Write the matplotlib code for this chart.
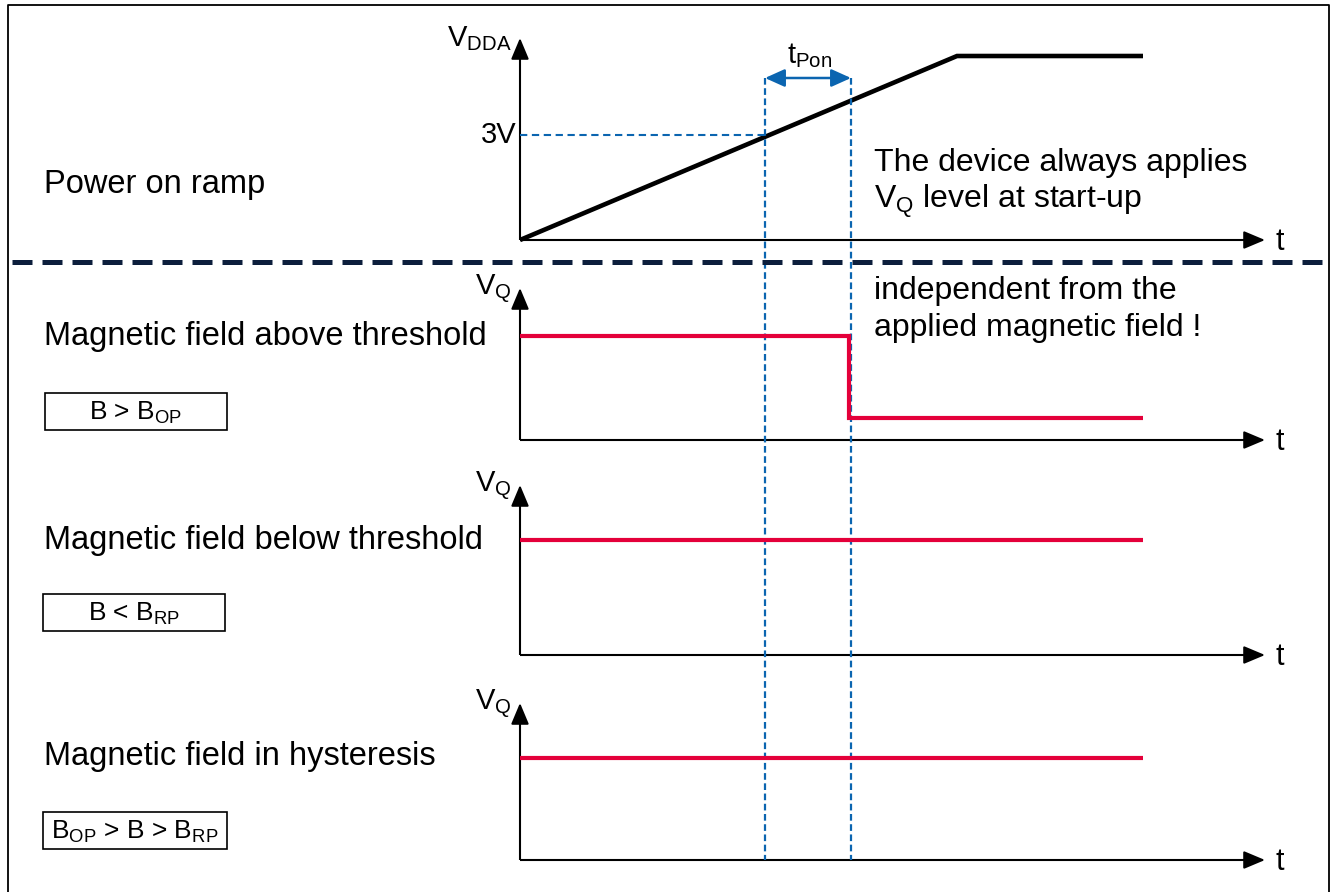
import matplotlib
matplotlib.use('Agg')
import matplotlib.pyplot as plt
from matplotlib.patches import Rectangle

plt.rcParams['font.family'] = ['Liberation Sans', 'DejaVu Sans']
plt.rcParams['mathtext.fontset'] = 'custom'
plt.rcParams['mathtext.rm'] = 'Liberation Sans'
plt.rcParams['mathtext.it'] = 'Liberation Sans'

# diagram coordinates (x = time, y = level, image-like units)
t_origin = 520
t_axis_end = 1265
t_sig_end = 1143
t_3v = 765
t_pon = 851
t_step = 849
y_3v = 135
y_pon_arrow = 78

ramp_t = [520, 957, 1143]
ramp_v = [240, 56, 56]

baselines = [240, 440, 655, 860]
axis_tops = [38, 288, 485, 703]
axis_labels = [r'V$_\mathregular{DDA}$', r'V$_\mathregular{Q}$',
               r'V$_\mathregular{Q}$', r'V$_\mathregular{Q}$']

sig_t = [[520, 849, 849, 1143], [520, 1143], [520, 1143]]
sig_v = [[336, 336, 418, 418], [540, 540], [758, 758]]

row_titles = ['Power on ramp', 'Magnetic field above threshold',
              'Magnetic field below threshold', 'Magnetic field in hysteresis']
row_title_y = [185, 337, 540, 757]
box_texts = [r'B > B$_\mathregular{OP}$', r'B < B$_\mathregular{RP}$',
             r'B$_\mathregular{OP}$ > B > B$_\mathregular{RP}$']
box_y = [393, 594, 812]
box_x = [45, 43, 43]
box_w = [182, 182, 184]
box_h = 37

notes = ['The device always applies', r'V$_\mathregular{Q}$ level at start-up',
         'independent from the', 'applied magnetic field !']
note_y = [163, 201, 291, 328]

RED = '#e4003a'
BLUE = '#0b65b0'
NAVY = '#0c1e3c'

fig = plt.figure(figsize=(13.32, 8.92), dpi=100)
ax = fig.add_axes([0, 0, 1, 1])
ax.set_xlim(0, 1332)
ax.set_ylim(892, 0)
ax.axis('off')

# outer frame (no bottom edge)
ax.plot([8, 8, 1329, 1329], [892, 5, 5, 892], color='black', lw=1.3)

# axes with arrows
for base, top, lab in zip(baselines, axis_tops, axis_labels):
    ax.plot([t_origin, t_origin], [base, top + 12], color='black', lw=1.5,
            solid_capstyle='butt')
    ax.annotate('', xy=(t_origin, top), xytext=(t_origin, top + 14),
                arrowprops=dict(arrowstyle='-|>,head_length=1.0,head_width=0.42',
                                color='black', lw=1.5, mutation_scale=13,
                                shrinkA=0, shrinkB=0))
    ax.plot([t_origin, t_axis_end - 14], [base, base], color='black', lw=1.5,
            solid_capstyle='butt')
    ax.annotate('', xy=(t_axis_end, base), xytext=(t_axis_end - 16, base),
                arrowprops=dict(arrowstyle='-|>,head_length=1.0,head_width=0.42',
                                color='black', lw=1.5, mutation_scale=13,
                                shrinkA=0, shrinkB=0))
    ax.text(t_axis_end + 11, base + 2, 't', fontsize=22, va='center', ha='left')
    ax.text(t_origin - 8, top + 1, lab, fontsize=21, va='center', ha='right')

# power on ramp
ax.plot(ramp_t, ramp_v, color='black', lw=3.3, solid_capstyle='butt',
        solid_joinstyle='miter')

# 3V marker and t_Pon
ax.plot([t_origin, t_3v], [y_3v, y_3v], color=BLUE, lw=1.5, dashes=(3.5, 2.2))
ax.text(t_origin - 4, y_3v, '3V', fontsize=21, va='center', ha='right')
for tx in (t_3v, t_pon):
    ax.plot([tx, tx], [y_pon_arrow, baselines[-1]], color=BLUE, lw=1.6,
            dashes=(3.0, 1.6))
ax.annotate('', xy=(t_pon, y_pon_arrow), xytext=(t_3v, y_pon_arrow),
            arrowprops=dict(arrowstyle='<|-|>,head_length=1.0,head_width=0.45',
                            color=BLUE, lw=1.8, mutation_scale=12,
                            shrinkA=0, shrinkB=0))
ax.text((t_3v + t_pon) / 2 + 2, 56, r't$_\mathregular{Pon}$', fontsize=21,
        ha='center', va='center')

# output signals
for ts, vs in zip(sig_t, sig_v):
    ax.plot(ts, vs, color=RED, lw=3.0, solid_joinstyle='miter',
            solid_capstyle='butt')

# separator
ax.plot([12, 1326], [262, 262], color=NAVY, lw=3.6, dashes=(4.0, 2.0))

# row titles and condition boxes
for txt, y in zip(row_titles, row_title_y):
    ax.text(44, y, txt, fontsize=23.5, va='center', ha='left')
for txt, x, y, w in zip(box_texts, box_x, box_y, box_w):
    ax.add_patch(Rectangle((x, y), w, box_h, fill=False, ec='black', lw=1.2))
    ax.text(x + w / 2, y + box_h / 2 + 1, txt, fontsize=19, ha='center',
            va='center')

# notes
for txt, y in zip(notes, note_y):
    ax.text(874, y, txt, fontsize=23, va='center', ha='left')

fig.savefig('out.png', dpi=100)
